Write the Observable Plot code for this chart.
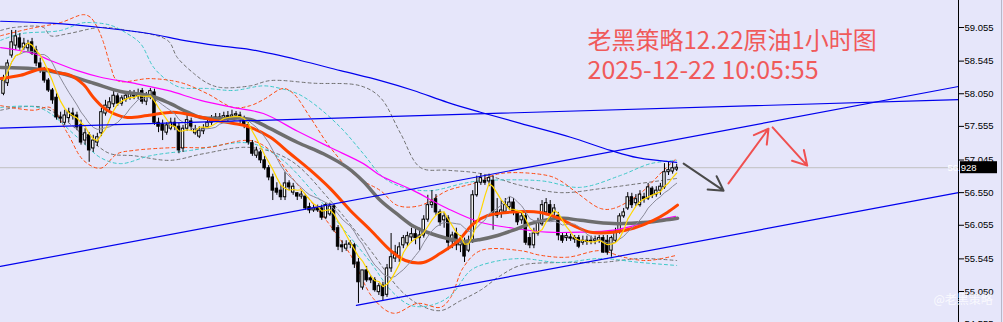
<!DOCTYPE html>
<html><head><meta charset="utf-8">
<script src="https://cdn.jsdelivr.net/npm/d3@7"></script>
<script src="https://cdn.jsdelivr.net/npm/@observablehq/plot@0.6"></script>
<style>html,body{margin:0;padding:0;background:#e6e6fa;} #chart svg{display:block}</style>
</head><body><div id="chart"></div>
<script>
const opens = [58.05,58.21,58.63,58.78,58.89,58.75,58.74,58.83,58.71,58.51,
58.40,58.25,58.10,57.99,57.69,57.61,57.68,57.75,57.72,57.57,
57.34,57.42,57.22,57.31,57.45,57.75,57.83,57.89,58.01,57.90,
57.96,57.99,58.04,58.01,58.09,57.93,58.01,58.07,57.61,57.58,
57.46,57.52,57.61,57.55,57.22,57.52,57.63,57.45,57.40,57.48,
57.54,57.61,57.68,57.69,57.68,57.71,57.69,57.72,57.72,57.65,
57.57,57.30,57.11,57.16,57.04,56.92,56.78,56.61,56.58,56.48,
56.69,56.55,56.54,56.49,56.49,56.33,56.28,56.31,56.31,56.17,
56.22,56.34,56.01,55.75,55.70,55.76,55.75,55.49,55.11,55.37,
55.25,55.22,55.04,55.14,55.00,55.40,55.55,55.58,55.75,55.78,
55.87,55.92,55.86,55.90,56.14,56.36,56.45,56.25,56.13,56.16,
55.81,55.93,55.75,55.79,55.67,55.82,56.51,56.70,56.73,56.72,
56.73,56.25,56.23,56.26,56.33,56.40,56.25,56.13,56.19,55.86,
55.75,55.93,56.07,56.25,56.36,56.25,56.20,55.89,55.86,55.87,
55.86,55.86,55.79,55.82,55.81,55.82,55.82,55.86,55.82,55.67,
55.82,55.95,56.19,56.31,56.48,56.39,56.36,56.48,56.46,56.61,
56.52,56.58,56.63,56.86,56.87,56.90];
const highs = [58.33,58.56,59.01,59.01,58.96,58.89,58.86,58.89,58.77,58.59,
58.45,58.28,58.13,58.05,57.77,57.80,57.83,57.83,57.77,57.65,
57.52,57.46,57.42,57.45,57.83,57.95,57.99,58.10,58.05,58.02,
58.07,58.10,58.10,58.12,58.13,58.07,58.13,58.12,57.68,57.65,
57.61,57.68,57.68,57.60,57.57,57.72,57.68,57.57,57.55,57.58,
57.68,57.72,57.75,57.75,57.77,57.78,57.80,57.78,57.77,57.71,
57.61,57.34,57.24,57.19,57.10,56.96,56.83,56.70,56.66,56.86,
56.73,56.69,56.55,56.57,56.52,56.39,56.36,56.36,56.36,56.39,
56.39,56.37,56.05,55.82,55.82,55.82,55.78,55.55,55.37,55.43,
55.29,55.26,55.17,55.19,55.46,55.93,55.75,55.79,55.90,55.95,
56.01,55.99,56.01,56.20,56.51,56.58,56.52,56.29,56.25,56.20,
55.95,56.01,55.90,55.86,55.89,56.58,56.80,56.84,56.81,56.83,
56.80,56.46,56.43,56.46,56.48,56.46,56.28,56.25,56.25,55.93,
56.01,56.16,56.43,56.46,56.43,56.37,56.25,55.93,55.93,55.92,
55.90,55.90,55.89,55.89,55.89,55.89,55.90,55.90,55.90,55.89,
56.01,56.23,56.31,56.55,56.54,56.52,56.58,56.54,56.69,56.64,
56.64,56.69,56.99,57.02,57.01,56.98];
const lows = [58.02,58.16,58.59,58.71,58.71,58.71,58.68,58.63,58.46,58.36,
58.21,58.07,57.89,57.65,57.60,57.57,57.61,57.65,57.49,57.27,
57.27,57.01,57.16,57.25,57.40,57.71,57.77,57.84,57.86,57.86,
57.92,57.95,57.96,57.96,57.89,57.87,57.96,57.57,57.46,57.34,
57.42,57.49,57.49,57.14,57.16,57.48,57.49,57.42,57.37,57.43,
57.52,57.57,57.63,57.63,57.65,57.63,57.66,57.66,57.60,57.52,
57.27,57.10,57.07,56.99,56.89,56.73,56.43,56.51,56.43,56.43,
56.58,56.51,56.43,56.45,56.28,56.23,56.25,56.25,56.13,56.14,
56.19,55.95,55.67,55.64,55.66,55.70,55.40,54.87,55.07,55.19,
55.17,55.04,54.99,54.91,54.96,55.34,55.49,55.49,55.70,55.73,
55.79,55.76,55.67,55.86,56.10,56.31,56.20,56.04,56.01,55.67,
55.70,55.67,55.64,55.49,55.64,55.78,56.48,56.66,56.66,56.64,
55.98,56.16,56.16,56.22,56.28,56.20,56.05,56.07,55.75,55.70,
55.70,55.89,56.04,56.20,56.16,56.19,55.82,55.78,55.81,55.81,
55.78,55.70,55.75,55.75,55.76,55.76,55.78,55.63,55.60,55.57,
55.78,55.92,56.16,56.28,56.31,56.34,56.33,56.39,56.43,56.46,
56.48,56.51,56.60,56.81,56.83,56.87];
const closes = [58.25,58.51,58.83,58.92,58.75,58.81,58.80,58.66,58.51,58.40,
58.25,58.10,57.95,57.69,57.68,57.72,57.77,57.71,57.54,57.31,
57.45,57.19,57.34,57.39,57.77,57.87,57.92,58.02,57.90,57.98,
58.02,58.05,58.01,58.05,57.93,58.01,58.09,57.61,57.55,57.49,
57.57,57.61,57.55,57.19,57.52,57.65,57.55,57.51,57.49,57.52,
57.61,57.68,57.69,57.68,57.71,57.69,57.72,57.74,57.65,57.57,
57.31,57.14,57.19,57.04,56.92,56.78,56.58,56.55,56.48,56.69,
56.63,56.64,56.49,56.52,56.31,56.28,56.31,56.28,56.17,56.36,
56.34,55.98,55.73,55.72,55.76,55.78,55.46,55.19,55.37,55.22,
55.22,55.07,55.13,54.98,55.40,55.57,55.64,55.72,55.86,55.89,
55.92,55.86,55.90,56.14,56.36,56.40,56.25,56.10,56.19,55.79,
55.90,55.75,55.82,55.58,55.82,56.51,56.70,56.77,56.70,56.77,
56.25,56.20,56.28,56.36,56.40,56.25,56.10,56.19,55.79,55.75,
55.93,56.10,56.36,56.39,56.23,56.31,55.90,55.82,55.89,55.86,
55.84,55.73,55.82,55.81,55.82,55.84,55.86,55.64,55.64,55.86,
55.96,56.19,56.25,56.48,56.36,56.45,56.52,56.45,56.63,56.51,
56.58,56.64,56.86,56.89,56.92,56.928];

// long moving averages: [bar index, price]
const maOrange = [[-0.7,58.28],[4.2,58.33],[9.8,58.43],[13.2,58.37],[16.4,58.33],[19.6,58.19],[22.1,57.99],[24.5,57.84],[27,57.75],[30.4,57.69],[35.3,57.72],[41.7,57.77],[46.6,57.72],[51.5,57.65],[56.4,57.60],[60.5,57.54],[65.4,57.39],[70.3,57.14],[75.2,56.89],[80.1,56.61],[85,56.28],[90,55.98],[94.9,55.67],[98.5,55.52],[102.9,55.49],[107.1,55.63],[111.3,55.81],[115.2,56.08],[118.6,56.20],[123.5,56.25],[131.6,56.25],[135.8,56.17],[139.7,56.05],[143.9,55.95],[149.5,55.95],[154.4,56.01],[159.3,56.13],[162.7,56.25],[165.2,56.36]];
const maGray = [[-0.7,58.45],[7.4,58.43],[14,58.36],[22.1,58.21],[28.7,58.085],[36,58.02],[40.9,57.90],[45.1,57.77],[48.3,57.69],[52.5,57.675],[60.5,57.66],[65.4,57.52],[72.1,57.31],[78.4,57.14],[84.3,56.93],[88.2,56.72],[92.4,56.43],[96.6,56.22],[100.5,56.04],[104.7,55.93],[108.8,55.855],[112.7,55.81],[116.9,55.84],[121.1,55.90],[125,55.98],[129.2,56.08],[133.3,56.14],[137.3,56.16],[141.4,56.13],[149.5,56.08],[157.8,56.10],[161.8,56.13],[165.2,56.16]];
const maMagenta = [[-0.7,58.75],[7.4,58.66],[11.5,58.555],[18.1,58.40],[23.8,58.30],[31.9,58.21],[40.2,58.10],[48.3,57.95],[56.4,57.84],[63.7,57.75],[72.1,57.48],[80.1,57.235],[88.2,56.99],[92.4,56.81],[100.5,56.58],[108.8,56.31],[116.9,56.10],[125,56.01],[133.3,55.95],[141.4,55.95],[149.5,55.98],[157.8,56.10],[164.7,56.19]];
const maBlue = [[-0.7,59.15],[11.5,59.12],[23.8,59.055],[36,58.96],[44.1,58.86],[52.5,58.78],[60.5,58.72],[72.8,58.555],[82.6,58.40],[92.4,58.25],[100.5,58.10],[108.8,57.92],[116.9,57.77],[126.7,57.60],[139,57.39],[148.8,57.19],[155.4,57.08],[165,57.01]];

// envelope bands
const bandOrangeUp = [[-0.7,58.93],[6.6,59.04],[14,59.13],[19.6,59.25],[21.3,59.21],[23,59.055],[24.5,58.83],[26.2,58.48],[27.9,58.25],[36,58.28],[43.4,58.22],[50,58.05],[56.4,57.84],[60.5,57.87],[63.7,57.96],[68.6,58.13],[71.1,58.05],[75.2,57.69],[80.1,57.235],[86.8,56.78],[92.4,56.58],[96.6,56.355],[102.2,56.355],[108.8,56.58],[115.2,56.69],[121.8,56.84],[133.3,56.81],[136.5,56.73],[140.7,56.54],[146.3,56.31],[149.5,56.31],[156.1,56.54],[161.8,56.89],[165,57.07]];
const bandOrangeLow = [[-0.7,57.87],[7.4,57.80],[11.5,57.84],[15.7,57.45],[19.6,57.04],[23.8,56.92],[27.9,57.14],[31.9,57.19],[42.6,57.235],[50,57.235],[60.5,57.34],[65.4,57.19],[70.3,56.81],[75.2,56.43],[80.1,56.05],[85.1,55.60],[90.7,54.94],[95.6,54.72],[101.5,54.87],[107.1,54.81],[109.6,54.96],[112.7,55.415],[116.9,55.67],[126.7,55.67],[131.6,55.60],[138.2,55.57],[146.3,55.67],[152,55.57],[157.8,55.52],[165,55.60]];
const bandCyanUp = [[-0.7,58.86],[4.2,58.96],[14,59.01],[18.9,59.12],[21.3,59.13],[26.2,59.09],[30.4,58.96],[33.6,58.81],[36.8,58.45],[40.2,58.25],[43.4,58.145],[50,58.13],[56.4,58.10],[63.7,58.17],[67.9,58.13],[72.1,58.05],[76,57.90],[82.6,57.54],[88.2,57.14],[93.1,56.78],[98,56.63],[104.7,56.58],[112.7,56.69],[116.9,56.73],[131.6,56.73],[141.4,56.63],[151.2,56.81],[158.6,56.99],[165,57.04]];
const bandCyanLow = [[-0.7,57.84],[9.1,57.83],[18.1,57.39],[23.8,57.08],[28.7,56.99],[36,57.11],[45.8,57.19],[60.5,57.30],[67.9,57.07],[75.2,56.61],[82.6,56.05],[90,55.49],[94.9,55.07],[99.8,54.84],[104.7,54.84],[109.6,54.99],[114.5,55.37],[119.4,55.49],[126.7,55.55],[136.5,55.49],[146.3,55.55],[156.1,55.49],[165,55.445]];
const bandGrayUp = [[-0.7,59.01],[2.5,59.055],[9.8,59.055],[11.5,58.93],[15.7,58.96],[23.8,59.055],[30.4,59.01],[40.2,58.86],[42.6,58.60],[46.6,58.36],[50,58.21],[53.2,58.145],[60.5,58.17],[65.4,58.25],[76,58.21],[87.5,58.17],[92.4,57.99],[97.3,57.45],[102.2,56.93],[108.8,56.89],[116.9,56.84],[126.7,56.66],[136.5,56.55],[146.3,56.61],[156.1,56.69],[165,56.765]];
const bandGrayLow = [[-0.7,57.80],[9.8,57.84],[22.1,57.30],[26.2,57.14],[31.9,57.11],[40.9,57.04],[49,57.14],[60.5,57.235],[70.3,57.04],[80.1,56.43],[90,55.67],[97.3,55.07],[102.2,54.84],[107.1,54.76],[112,54.91],[116.9,55.07],[121.8,55.29],[126.7,55.445],[136.5,55.49],[146.3,55.49],[156.1,55.55],[165,55.52]];

// hand-drawn objects: trend lines and arrows [bar index, price]
const lineChannelUp = [[-0.74,55.43],[234.07,58.16]];
const lineChannelLow = [[86.5,54.84],[234.07,56.55]];
const lineFlat = [[-0.74,57.53],[234.07,57.96]];
const arrowGray = [[166.7,56.99,176.5,56.58]];
const arrowsRed = [[177.7,56.69,187.5,57.52],[188.5,57.54,197,56.96]];

const yTicks = [59.055,58.545,58.050,57.555,57.045,56.550,56.055,55.545,55.050,54.555];
const titleLines = ["老黑策略12.22原油1小时图","2025-12-22 10:05:55"];
const watermark = "@老黑策略";

const candles = closes.map((c,i)=>({i, open:opens[i], high:highs[i], low:lows[i], close:c, up:c>=opens[i]}));
const pts = a => a.map(([i,p])=>({i,p}));
const lastClose = closes[closes.length-1];
const xMax = 234.07;

const dashed = (arr, color) => Plot.line(pts(arr), {x:"i", y:"p", stroke:color, strokeWidth:1, strokeDasharray:"3,3", curve:"catmull-rom"});
const solid = (arr, color, w) => Plot.line(pts(arr), {x:"i", y:"p", stroke:color, strokeWidth:w, curve:"catmull-rom"});

const chart = Plot.plot({
  width:1003, height:322, marginLeft:0, marginRight:45, marginTop:0, marginBottom:0,
  style:{background:"#e6e6fa", fontFamily:"'Liberation Sans', Arial, sans-serif", overflow:"visible"},
  x:{domain:[-0.735, xMax], axis:null},
  y:{domain:[54.5799, 59.4646], axis:null},
  marks:[
    Plot.ruleY([lastClose], {stroke:"#c0c0c0", strokeWidth:1}),
    dashed(bandGrayUp, "#707070"), dashed(bandGrayLow, "#707070"),
    dashed(bandCyanUp, "#3cc8c8"), dashed(bandCyanLow, "#3cc8c8"),
    dashed(bandOrangeUp, "#ff4a10"), dashed(bandOrangeLow, "#ff4a10"),
    Plot.ruleX(candles, {x:"i", y1:"low", y2:"high", stroke:"#000", strokeWidth:1}),
    Plot.rect(candles, {x1:d=>d.i-0.3, x2:d=>d.i+0.3, y1:"open", y2:"close", fill:d=>d.up?"#ffffff":"#000000", stroke:"#000", strokeWidth:1}),
    Plot.ruleY(candles.filter(d=>Math.abs(d.open-d.close)<0.015), {x1:d=>d.i-0.4, x2:d=>d.i+0.4, y:"close", stroke:"#000"}),
    solid(maBlue, "#0000ee", 1.2),
    solid(maMagenta, "#ff00ff", 1.2),
    solid(maGray, "#6e6e6e", 3.5),
    solid(maOrange, "#ff4500", 3),
    Plot.lineY(candles, Plot.windowY({k:10, anchor:"end"}, {x:"i", y:"close", stroke:"#8a8a99", strokeWidth:1})),
    Plot.lineY(candles, Plot.windowY({k:5, anchor:"end"}, {x:"i", y:"close", stroke:"#ffd700", strokeWidth:1.2})),
    Plot.line(pts(lineChannelUp), {x:"i", y:"p", stroke:"#0000ee", strokeWidth:1.2}),
    Plot.line(pts(lineChannelLow), {x:"i", y:"p", stroke:"#0000ee", strokeWidth:1.2}),
    Plot.line(pts(lineFlat), {x:"i", y:"p", stroke:"#0000ee", strokeWidth:1.2}),
    Plot.arrow(arrowGray, {x1:d=>d[0], y1:d=>d[1], x2:d=>d[2], y2:d=>d[3], stroke:"#4a4a4a", strokeWidth:2, headLength:12, bend:0}),
    Plot.arrow(arrowsRed, {x1:d=>d[0], y1:d=>d[1], x2:d=>d[2], y2:d=>d[3], stroke:"#f05050", strokeWidth:2, headLength:12, bend:0}),
    Plot.ruleX([xMax], {stroke:"#000", strokeWidth:1}),
    Plot.axisY(yTicks, {anchor:"right", tickSize:5, tickPadding:1, tickFormat:d=>d.toFixed(3), fontSize:9.5, label:null, stroke:"#000", fill:"#000"}),
    Plot.text([titleLines[0]], {frameAnchor:"top-left", dx:587, dy:48, lineAnchor:"bottom", textAnchor:"start", fontSize:24, fill:"#f05a5a", fontFamily:"'Noto Sans CJK SC', sans-serif"}),
    Plot.text([titleLines[1]], {frameAnchor:"top-left", dx:587, dy:78, lineAnchor:"bottom", textAnchor:"start", fontSize:25, fill:"#f05a5a", fontFamily:"'Noto Sans CJK SC', sans-serif"}),
    Plot.text([watermark], {frameAnchor:"top-left", dx:933, dy:303, lineAnchor:"bottom", textAnchor:"start", fontSize:12, fill:"#ffffff", fillOpacity:0.8, fontFamily:"'Noto Sans CJK SC', sans-serif"})
  ]
});
document.getElementById("chart").appendChild(chart);

// current price label box on the axis, placed through the plot's scales
const svg = d3.select(chart);
const yS = chart.scale("y"), xS = chart.scale("x");
const yp = yS.apply(lastClose), xp = xS.apply(xMax);
const g = svg.append("g");
g.append("rect").attr("x", xp+2).attr("y", yp-6).attr("width", 37).attr("height", 12).attr("fill", "#000");
g.append("text").attr("x", xp+4).attr("y", yp+3.5).attr("fill", "#ffffff").attr("font-size", 9.5)
  .attr("font-family", "'Liberation Sans', Arial, sans-serif").text(lastClose.toFixed(3));
// thin right border of the window
g.append("line").attr("x1", 1001.5).attr("x2", 1001.5).attr("y1", 0).attr("y2", 322).attr("stroke", "#b8b8c8");
</script>
</body></html>
